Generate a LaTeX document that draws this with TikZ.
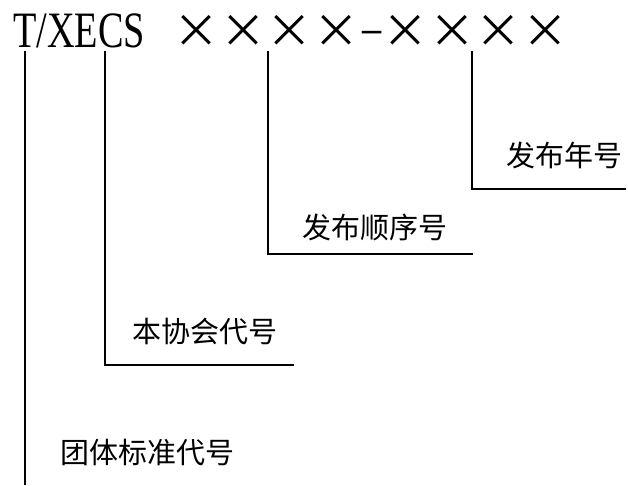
\documentclass[tikz,border=0pt]{standalone}
\usepackage{fontspec}
\setmainfont{Liberation Serif}
\newfontfamily\cjk{Noto Sans CJK SC}
\newfontfamily\stdfont[FakeStretch=0.75]{Liberation Serif}

\begin{document}
\begin{tikzpicture}[x=1pt, y=-1pt,
    meaning/.style={font=\cjk\fontsize{29}{29}\selectfont, inner sep=0pt},
    stdcode/.style={font=\stdfont\fontsize{51}{51}\selectfont, inner sep=0pt, anchor=base west},
    cross/.style={font=\cjk\fontsize{46}{46}\selectfont, inner sep=0pt, anchor=base},
    lead/.style={line width=2pt}
]
\useasboundingbox (0,0) rectangle (628,485);

% Standard number
\node[stdcode] (org) at (13,47) {T/XECS};
\node[cross] (c1) at (196.5,47) {×};
\node[cross] (c2) at (243,47) {×};
\node[cross] (c3) at (289.5,47) {×};
\node[cross] (c4) at (336,47) {×};
\node[stdcode, anchor=base] (dash) at (372.5,44) {–};
\node[cross] (c5) at (405.5,47) {×};
\node[cross] (c6) at (452,47) {×};
\node[cross] (c7) at (498.5,47) {×};
\node[cross] (c8) at (545,47) {×};

% Meanings
\node[meaning] (year) at (564.5,155) {发布年号};
\node[meaning] (seq) at (374.5,227) {发布顺序号};
\node[meaning] (assoc) at (204.5,332) {本协会代号};
\node[meaning] (group) at (147,452) {团体标准代号};

% Leader lines
\coordinate (tTop) at (25,51);
\coordinate (tEnd) at (25,485);
\coordinate (xTop) at (105,51);
\coordinate (xEnd) at (294,365);
\coordinate (nTop) at (268,51);
\coordinate (nEnd) at (473,254);
\coordinate (yTop) at (472,51);
\coordinate (yEnd) at (626,189);

\draw[lead] (tTop) -- (tEnd);
\draw[lead] (xTop) |- (xEnd);
\draw[lead] (nTop) |- (nEnd);
\draw[lead] (yTop) |- (yEnd);

\end{tikzpicture}
\end{document}
